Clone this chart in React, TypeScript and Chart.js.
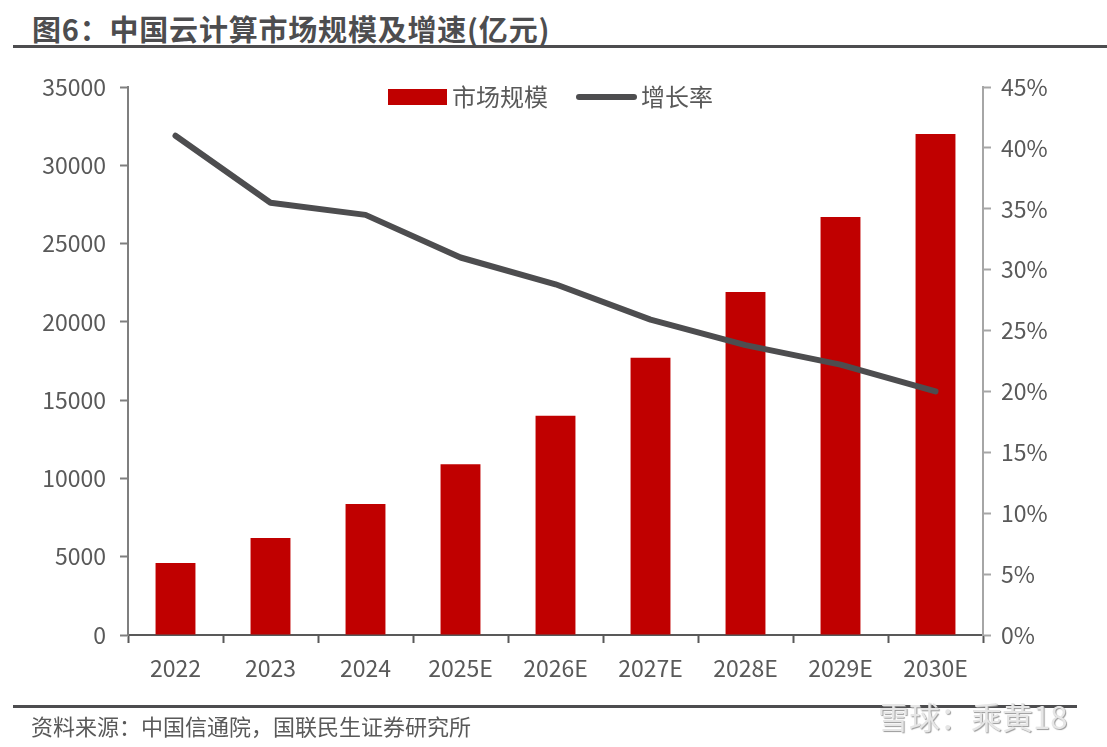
import React, { useEffect, useRef } from 'react';
import { Chart, registerables } from 'chart.js';

Chart.register(...registerables);

const categories = ['2022', '2023', '2024', '2025E', '2026E', '2027E', '2028E', '2029E', '2030E'];
const marketSize = [4600, 6200, 8370, 10900, 14000, 17700, 21900, 26700, 32000];
const growthRate = [41.0, 35.5, 34.5, 31.0, 28.8, 25.9, 23.8, 22.2, 20.0];
const seriesNames = ['市场规模', '增长率'];

const TITLE = '图6：中国云计算市场规模及增速(亿元)';
const SOURCE = '资料来源：中国信通院，国联民生证券研究所';
const FONT = '"Noto Sans CJK SC", "Noto Sans", sans-serif';
const RED = '#C00000';
const GRAY_LINE = '#4D4D4F';
const TEXT = '#595959';

const legendPlugin = {
  id: 'customLegend',
  afterDraw(chart: any) {
    const ctx = chart.ctx;
    const ds = chart.data.datasets;
    ctx.save();
    ctx.font = `24px ${FONT}`;
    ctx.textBaseline = 'middle';
    const y = 97;
    ctx.fillStyle = ds[0].backgroundColor;
    ctx.fillRect(388, y - 8, 59, 16);
    ctx.fillStyle = TEXT;
    ctx.fillText(ds[0].label, 452, y);
    ctx.strokeStyle = ds[1].borderColor;
    ctx.lineWidth = 6;
    ctx.lineCap = 'round';
    ctx.beginPath();
    ctx.moveTo(579, y);
    ctx.lineTo(634, y);
    ctx.stroke();
    ctx.fillText(ds[1].label, 641, y);
    ctx.restore();
  },
};

export default function App() {
  const ref = useRef<HTMLCanvasElement>(null);

  useEffect(() => {
    if (!ref.current) return;
    const chart = new Chart(ref.current, {
      type: 'bar',
      data: {
        labels: categories,
        datasets: [
          {
            type: 'bar',
            label: seriesNames[0],
            data: marketSize,
            backgroundColor: RED,
            borderWidth: 0,
            categoryPercentage: 1,
            barPercentage: 0.42,
            yAxisID: 'y',
            order: 1,
          },
          {
            type: 'line',
            label: seriesNames[1],
            data: growthRate,
            borderColor: GRAY_LINE,
            backgroundColor: GRAY_LINE,
            borderWidth: 6,
            borderCapStyle: 'round',
            borderJoinStyle: 'round',
            pointRadius: 0,
            tension: 0,
            yAxisID: 'y1',
            order: 0,
          } as any,
        ],
      },
      options: {
        responsive: false,
        animation: false,
        devicePixelRatio: 1,
        layout: { padding: { top: 87, left: 0, right: 0, bottom: 0 } },
        plugins: {
          legend: { display: false },
          tooltip: { enabled: false },
          title: { display: false },
        },
        scales: {
          x: {
            offset: true,
            border: { display: true, color: '#595959', width: 2 },
            grid: {
              display: true,
              offset: true,
              drawOnChartArea: false,
              drawTicks: true,
              tickLength: 8,
              tickColor: '#595959',
              tickWidth: 2,
            },
            ticks: {
              color: TEXT,
              font: { family: FONT, size: 23 },
              padding: 11,
              maxRotation: 0,
            },
            afterFit(scale: any) {
              scale.height = 747 - 635;
            },
          },
          y: {
            position: 'left',
            min: 0,
            max: 35000,
            border: { display: true, color: '#7F7F7F', width: 2 },
            grid: {
              display: true,
              drawOnChartArea: false,
              drawTicks: true,
              tickLength: 8,
              tickColor: '#7F7F7F',
              tickWidth: 2,
            },
            ticks: {
              stepSize: 5000,
              color: TEXT,
              font: { family: FONT, size: 23 },
              padding: 14,
              callback: (v: any) => String(v),
            },
            afterFit(scale: any) {
              scale.width = 128;
            },
          },
          y1: {
            position: 'right',
            min: 0,
            max: 45,
            border: { display: true, color: '#A6A6A6', width: 2 },
            grid: {
              display: true,
              drawOnChartArea: false,
              drawTicks: true,
              tickLength: 8,
              tickColor: '#A6A6A6',
              tickWidth: 2,
            },
            ticks: {
              stepSize: 5,
              color: TEXT,
              font: { family: FONT, size: 23 },
              padding: 10,
              callback: (v: any) => `${v}%`,
            },
            afterFit(scale: any) {
              scale.width = 1107 - 983;
            },
          },
        },
      } as any,
      plugins: [legendPlugin],
    });
    return () => chart.destroy();
  }, []);

  return (
    <div style={{ position: 'fixed', left: 0, top: 0, width: 1107, height: 747, background: '#fff', overflow: 'hidden', fontFamily: FONT }}>
      <div style={{ position: 'absolute', left: 32, top: 8, fontSize: 29, fontWeight: 'bold', color: '#4D4D4F', whiteSpace: 'nowrap', lineHeight: '40px', letterSpacing: '0.8px' }}>
        {TITLE}
      </div>
      <div style={{ position: 'absolute', left: 13, top: 45, width: 1094, height: 3, background: '#4D4D4F' }} />
      <canvas ref={ref} width={1107} height={747} style={{ position: 'absolute', left: 0, top: 0, width: 1107, height: 747 }} />
      <div style={{ position: 'absolute', left: 13, top: 705, width: 1064, height: 3, background: '#4D4D4F' }} />
      <div style={{ position: 'absolute', left: 31, top: 709, fontSize: 22, color: TEXT, whiteSpace: 'nowrap', lineHeight: '32px' }}>
        {SOURCE}
      </div>
      <div style={{ position: 'absolute', left: 878, top: 696, fontSize: 31, color: '#E6E6E6', whiteSpace: 'nowrap', lineHeight: '40px', textShadow: '1px 1px 1px #9a9a9a' }}>
        雪球：乘黄18
      </div>
    </div>
  );
}
